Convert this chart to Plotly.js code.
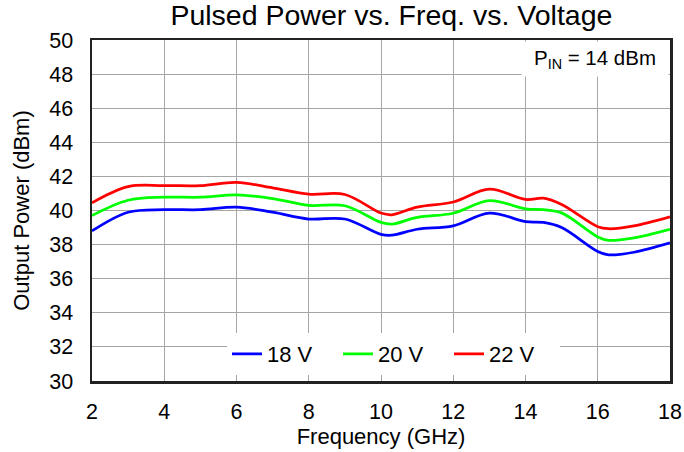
<!DOCTYPE html>
<html><head><meta charset="utf-8">
<script src="https://cdn.plot.ly/plotly-3.0.1.min.js"></script>
<style>html,body{margin:0;padding:0;background:#fff}#chart{width:684px;height:452px}</style>
</head><body><div id="chart"></div>
<script>
const freq = [2,3,4,5,6,7,8,9,10,10.3,11,12,13,14,14.5,15,16,16.3,17,18];
const v18 = [38.8,39.9,40.05,40.05,40.2,39.9,39.5,39.5,38.6,38.55,38.9,39.1,39.85,39.35,39.3,39.0,37.6,37.4,37.55,38.1];
const v20 = [39.7,40.6,40.78,40.78,40.92,40.7,40.3,40.28,39.3,39.2,39.6,39.84,40.58,40.1,40.05,39.86,38.45,38.25,38.4,38.9];
const v22 = [40.45,41.4,41.46,41.46,41.65,41.33,40.96,40.94,39.85,39.75,40.2,40.5,41.25,40.65,40.72,40.35,39.05,38.93,39.1,39.63];
const seriesNames = ['18 V','20 V','22 V'];
const colors = ['#0000ff','#00ff00','#ff0000'];
const series = [v18, v20, v22];
const traces = series.map((y,i)=>({
  x: freq, y: y, name: seriesNames[i], type:'scatter', mode:'lines',
  line:{color:colors[i], width:2.75, shape:'spline', smoothing:1}
}));
const font = {family:'Liberation Sans, Arial, sans-serif', color:'#000'};
const f = s => Object.assign({size:s}, font);
const layout = {
  width:684, height:452,
  margin:{l:92, r:14, t:40, b:71},
  paper_bgcolor:'#fff', plot_bgcolor:'#fff',
  font:f(22),
  title:{text:'Pulsed Power vs. Freq. vs. Voltage', font:f(28.5), xref:'paper', x:0.518, xanchor:'center', yref:'container', y:0.988, yanchor:'top'},
  xaxis:{range:[2,18], dtick:2, tick0:2, showgrid:true, gridcolor:'#a6a6a6', gridwidth:1,
    showline:true, linecolor:'#222', linewidth:2.5, mirror:true, ticks:'', zeroline:false,
    tickfont:f(21.5), ticklabelstandoff:10,
    title:{text:'Frequency (GHz)', font:f(22), standoff:2}},
  yaxis:{range:[30,50], dtick:2, tick0:30, showgrid:true, gridcolor:'#a6a6a6', gridwidth:1,
    showline:true, linecolor:'#222', linewidth:2.5, mirror:true, ticks:'', zeroline:false,
    tickfont:f(21.5), ticklabelstandoff:12,
    title:{text:'Output Power (dBm)', font:f(22), standoff:14}},
  showlegend:true,
  legend:{orientation:'h', x:0.2336, xanchor:'left', y:0.079, yanchor:'middle',
    bgcolor:'#fff', font:f(22), itemwidth:30, tracegroupgap:0,
    entrywidth:66},
  annotations:[{xref:'paper', yref:'paper', x:0.998, y:0.996, xanchor:'right', yanchor:'top',
    text:'P<sub>IN</sub> = 14 dBm', showarrow:false, bgcolor:'#fff',
    font:f(20.5), width:144, height:32, align:'center'}]
};
Plotly.newPlot('chart', traces, layout, {displayModeBar:false, staticPlot:true});
</script></body></html>
